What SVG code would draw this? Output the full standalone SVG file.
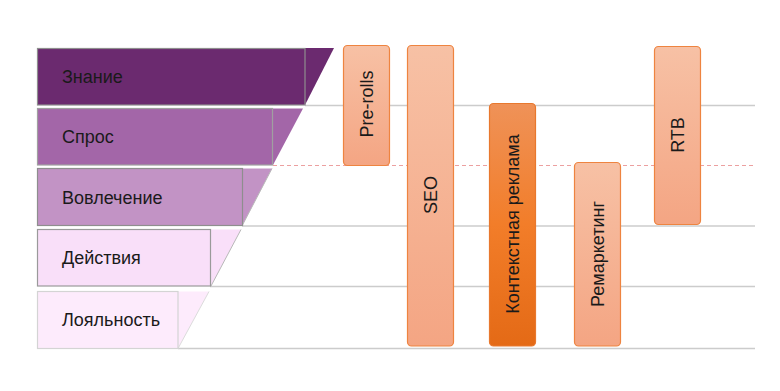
<svg xmlns="http://www.w3.org/2000/svg" width="780" height="391" viewBox="0 0 780 391">
<defs>
<linearGradient id="gLight" x1="0" y1="0" x2="0" y2="1">
<stop offset="0" stop-color="#f7c1a5"/>
<stop offset="1" stop-color="#f4a583"/>
</linearGradient>
<linearGradient id="gDark" x1="0" y1="0" x2="0" y2="1">
<stop offset="0" stop-color="#ef9258"/>
<stop offset="0.5" stop-color="#f27d29"/>
<stop offset="1" stop-color="#e46a16"/>
</linearGradient>
<style>
.t{font-family:"Liberation Sans",Arial,sans-serif;font-size:18px;fill:#1a1a1a}
.grid{stroke:#cccccc;stroke-width:1.3;fill:none}
.dash{stroke:#eca0a0;stroke-width:1.2;stroke-dasharray:4 3;fill:none}
.bar{fill:url(#gLight);stroke:#ee8440;stroke-width:1.2}
.bar2{fill:url(#gDark);stroke:#e8782e;stroke-width:1.2}
.slant{stroke:#b8b8b8;stroke-width:1}
</style>
</defs>
<rect width="780" height="391" fill="#ffffff"/>
<g id="grid">
<line class="grid" x1="305" y1="105.5" x2="755" y2="105.5"/>
<line class="dash" x1="273" y1="165.5" x2="755" y2="165.5"/>
<line class="grid" x1="242" y1="226" x2="755" y2="226"/>
<line class="grid" x1="210" y1="286.5" x2="755" y2="286.5"/>
<line class="grid" x1="178" y1="348.5" x2="755" y2="348.5"/>
</g>
<g id="row-znanie">
<polygon points="37,48 334,48 305,105 37,105" fill="#6b2a6f"/>
<rect x="37.5" y="48.5" width="267.5" height="56.5" fill="none" stroke="#8e8e8e" stroke-width="1.2"/>
<text class="t" x="62" y="83">Знание</text>
</g>
<g id="row-spros">
<polygon points="37,108.5 303,108.5 273,165 37,165" fill="#a366a8"/>
<rect x="37.5" y="108.5" width="235" height="56.5" fill="none" stroke="#a0a0a0" stroke-width="1.2"/>
<text class="t" x="62" y="143">Спрос</text>
</g>
<g id="row-vovlechenie">
<polygon points="37,168.5 272,168.5 242,226 37,226" fill="#c293c5"/>
<line class="slant" x1="272" y1="168.5" x2="242" y2="226"/>
<rect x="37.5" y="168.5" width="205" height="57" fill="none" stroke="#8e8e8e" stroke-width="1.2"/>
<text class="t" x="62" y="204">Вовлечение</text>
</g>
<g id="row-deistviya">
<polygon points="37,229.5 241,229.5 211,286 37,286" fill="#f9dff9"/>
<line class="slant" x1="241" y1="229.5" x2="211" y2="286"/>
<rect x="37.5" y="229.5" width="173" height="56.5" fill="none" stroke="#9a9a9a" stroke-width="1.2"/>
<text class="t" x="62" y="264">Действия</text>
</g>
<g id="row-loyalnost">
<polygon points="37,291.5 209,291.5 178,348.5 37,348.5" fill="#fdebfc"/>
<line x1="209" y1="291.5" x2="178" y2="348.5" stroke="#dcdcdc" stroke-width="1"/>
<rect x="37.5" y="291.5" width="140.5" height="57" fill="none" stroke="#d4d4d4" stroke-width="1.2"/>
<text class="t" x="62" y="326">Лояльность</text>
</g>
<g id="bar-prerolls">
<rect class="bar" x="343.5" y="45.5" width="46" height="120" rx="4"/>
<text class="t" text-anchor="middle" transform="translate(373,104) rotate(-90)">Pre-rolls</text>
</g>
<g id="bar-seo">
<rect class="bar" x="407.5" y="45.5" width="46" height="300.5" rx="4"/>
<text class="t" text-anchor="middle" transform="translate(437,195) rotate(-90)">SEO</text>
</g>
<g id="bar-context">
<rect class="bar2" x="489.5" y="103.5" width="46" height="242.5" rx="4"/>
<text class="t" text-anchor="middle" transform="translate(519,224) rotate(-90)">Контекстная реклама</text>
</g>
<g id="bar-remarketing">
<rect class="bar" x="574.5" y="162.5" width="46" height="183.5" rx="4"/>
<text class="t" text-anchor="middle" transform="translate(604,254) rotate(-90)">Ремаркетинг</text>
</g>
<g id="bar-rtb">
<rect class="bar" x="654.5" y="46.5" width="46" height="178" rx="4"/>
<text class="t" text-anchor="middle" transform="translate(684,135) rotate(-90)">RTB</text>
</g>
</svg>
